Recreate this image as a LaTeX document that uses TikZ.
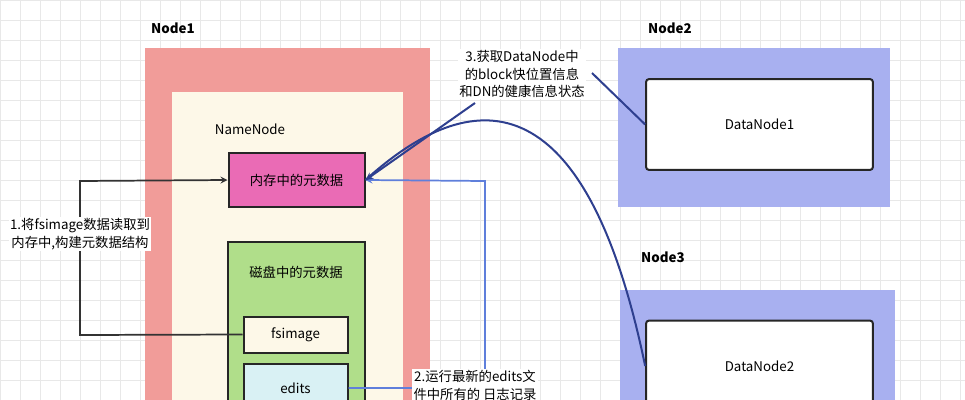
\documentclass[tikz,border=0pt]{standalone}
\usepackage{fontspec}
\setmainfont{Noto Sans CJK SC}
\usepackage{tikz}
\usetikzlibrary{positioning}
\definecolor{pinkbg}{HTML}{F19C99}
\definecolor{creambg}{HTML}{FDF8E8}
\definecolor{memfill}{HTML}{EA6BB5}
\definecolor{greenbg}{HTML}{B0DE8A}
\definecolor{cyanbg}{HTML}{D9F1F4}
\definecolor{bluebg}{HTML}{A8B0F0}
\definecolor{linkblue}{HTML}{5F7FDB}
\definecolor{darkblue}{HTML}{2E3F8F}
\tikzset{
  box/.style={draw=black!85,line width=1.5pt,font=\fontsize{10}{12}\selectfont},
  lbl/.style={font=\fontsize{10}{13}\selectfont,fill=white,inner sep=1pt,align=center},
  head/.style={font=\bfseries\fontsize{10}{12}\selectfont}
}
\begin{document}
\begin{tikzpicture}[x=0.75pt,y=-0.75pt]
\useasboundingbox (0,0) rectangle (965,400);
\draw[black!9,step=15pt] (0,0) grid (965,400);
% Node1
\fill[pinkbg] (145,48) rectangle (430,410);
\fill[creambg] (172,92) rectangle (403,410);
\node[head] (n1) at (173,28) {Node1};
\node[font=\fontsize{10}{12}\selectfont] (nn) at (250,129) {NameNode};
\node[box,fill=memfill,minimum width=102pt,minimum height=40pt] (mem) at (296.5,180) {内存中的元数据};
\fill[greenbg,draw=black!85,line width=1.5pt] (228,242) rectangle (365,410);
\node[font=\fontsize{10}{12}\selectfont] (disk) at (296,272) {磁盘中的元数据};
\node[box,fill=creambg,minimum width=78pt,minimum height=27pt] (fsi) at (295.5,334.5) {fsimage};
\node[box,fill=cyanbg,minimum width=78pt,minimum height=36pt] (ed) at (295.5,388) {edits};
% Node2 / Node3
\node[head] (n2) at (670,28) {Node2};
\fill[bluebg] (618,48) rectangle (890,207);
\node[box,fill=white,rounded corners=2pt,minimum width=170pt,minimum height=68pt] (dn1) at (759.5,124.5) {DataNode1};
\node[head] (n3) at (663,257) {Node3};
\fill[bluebg] (620,290) rectangle (895,410);
\node[box,fill=white,rounded corners=2pt,minimum width=170pt,minimum height=68pt] (dn2) at (759.5,366) {DataNode2};
% step 1
\coordinate (c1) at (80,335);
\coordinate (c2) at (80,181);
\draw[black!80,line width=1.3pt,-stealth] (fsi.west) -- (c1) -- (c2) -- (mem.west);
\node[lbl] (t1) at (80,234) {1.将fsimage数据读取到\\内存中,构建元数据结构};
% step 2
\coordinate (c3) at (485,388);
\coordinate (c4) at (485,181);
\draw[linkblue,line width=1.3pt,-stealth] (ed.east) -- (c3) -- (c4) -- (mem.east);
\node[lbl,anchor=north] (t2) at (475,369) {2.运行最新的edits文\\件中所有的 日志记录};
% step 3
\node[lbl] (t3) at (522,74) {3.获取DataNode中\\的block快位置信息\\和DN的健康信息状态};
\draw[darkblue,line width=1.5pt] (dn1.west) -- (592,73);
\draw[darkblue,line width=1.5pt,-stealth] (475,103) -- (mem.east);
\draw[darkblue,line width=1.5pt] (dn2.west) .. controls (585,75) and (470,85) .. (mem.east);
\end{tikzpicture}
\end{document}
